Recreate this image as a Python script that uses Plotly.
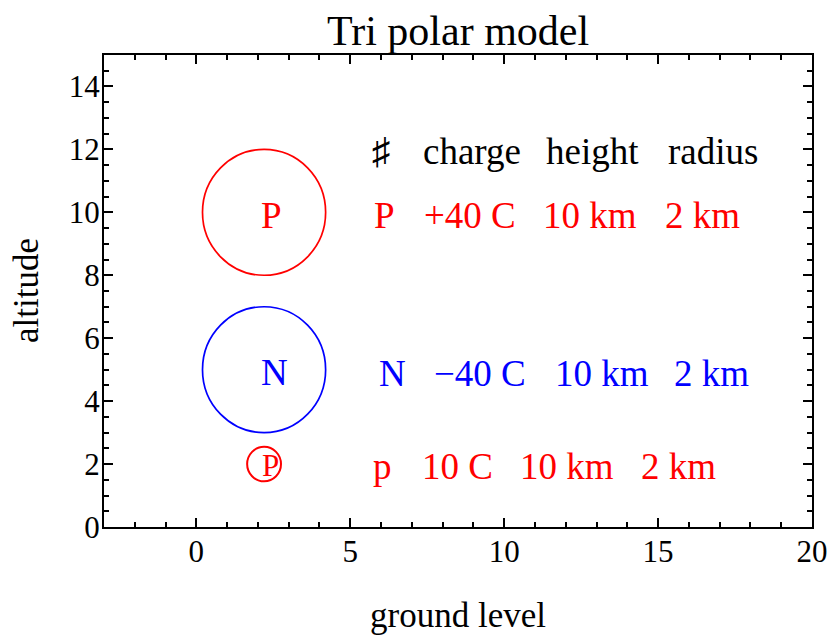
import plotly.graph_objects as go

# ---- data ----
charge_names = ["P", "N", "p"]
charges = ["+40 C", "\u221240 C", "10 C"]
heights = ["10 km", "10 km", "10 km"]
radii_text = ["2 km", "2 km", "2 km"]
header = ["\u266f", "charge", "height", "radius"]
circle_x = [2.2, 2.2, 2.2]
circle_y = [10, 5, 2]
circle_r = [2, 2, 0.55]
circle_labels = ["P", "N", "P"]
colors = ["#ff0000", "#0000ff", "#ff0000"]

# ---- layout constants ----
FONT = "Liberation Serif, Times New Roman, serif"
row_y = [9.9, 4.88, 1.92]
header_y = 11.93
header_cols = [6.02, 8.95, 12.88, 16.78]
row_cols = [
    [6.10, 8.90, 12.80, 16.45],
    [6.36, 9.21, 13.17, 16.72],
    [6.06, 8.49, 12.03, 15.65],
]
label_x = [2.44, 2.54, 2.40]
label_y = [9.9, 4.9, 1.96]
label_size = [37, 37, 31]
TABLE_SIZE = 37

fig = go.Figure()
fig.add_trace(go.Scatter(x=[None], y=[None], showlegend=False))

shapes = []
for cx, cy, r, c in zip(circle_x, circle_y, circle_r, colors):
    shapes.append(dict(type="circle", xref="x", yref="y",
                       x0=cx - r, x1=cx + r, y0=cy - r, y1=cy + r,
                       line=dict(color=c, width=1.7 if r > 1 else 2)))

ann = []
for t, x in zip(header, header_cols):
    ann.append(dict(x=x, y=header_y, text=t, showarrow=False,
                    font=dict(family=FONT, size=TABLE_SIZE, color="black"),
                    xanchor="center", yanchor="middle"))
for i in range(3):
    cells = [charge_names[i], charges[i], heights[i], radii_text[i]]
    for t, x in zip(cells, row_cols[i]):
        ann.append(dict(x=x, y=row_y[i], text=t, showarrow=False,
                        font=dict(family=FONT, size=TABLE_SIZE, color=colors[i]),
                        xanchor="center", yanchor="middle"))
    ann.append(dict(x=label_x[i], y=label_y[i], text=circle_labels[i], showarrow=False,
                    font=dict(family=FONT, size=label_size[i], color=colors[i]),
                    xanchor="center", yanchor="middle"))

# title and axis titles
ann.append(dict(x=0.5, y=1, xref="paper", yref="paper", yshift=24,
                text="Tri polar model", showarrow=False,
                font=dict(family=FONT, size=42, color="black"),
                xanchor="center", yanchor="middle"))
ann.append(dict(x=0.5, y=0, xref="paper", yref="paper", yshift=-88,
                text="ground level", showarrow=False,
                font=dict(family=FONT, size=35, color="black"),
                xanchor="center", yanchor="middle"))
ann.append(dict(x=0, y=0.5, xref="paper", yref="paper", xshift=-78,
                text="altitude", showarrow=False, textangle=-90,
                font=dict(family=FONT, size=35, color="black"),
                xanchor="center", yanchor="middle"))

axis_common = dict(
    showgrid=False, zeroline=False, showline=True, linecolor="black", linewidth=2,
    mirror="ticks", ticks="inside", tickcolor="black", tickwidth=1.5, ticklen=9,
    tickfont=dict(family=FONT, size=31, color="black"),
)

# the page body has an 8px margin, so the figure is 8px smaller than the window
fig.update_layout(
    width=832, height=628,
    margin=dict(l=96, r=20, t=47, b=109),
    paper_bgcolor="white", plot_bgcolor="white",
    showlegend=False,
    xaxis=dict(range=[-3, 20], tickmode="linear", tick0=0, dtick=5,
               ticklabelstandoff=-4,
               minor=dict(tick0=0, dtick=1, ticks="inside", ticklen=5,
                          tickwidth=1.5, tickcolor="black"),
               **axis_common),
    yaxis=dict(range=[0, 15], tickmode="linear", tick0=0, dtick=2,
               ticklabelstandoff=-4,
               minor=dict(tick0=0, dtick=0.5, ticks="inside", ticklen=5,
                          tickwidth=1.5, tickcolor="black"),
               **axis_common),
    shapes=shapes,
    annotations=ann,
)

fig.write_html("out.html")
